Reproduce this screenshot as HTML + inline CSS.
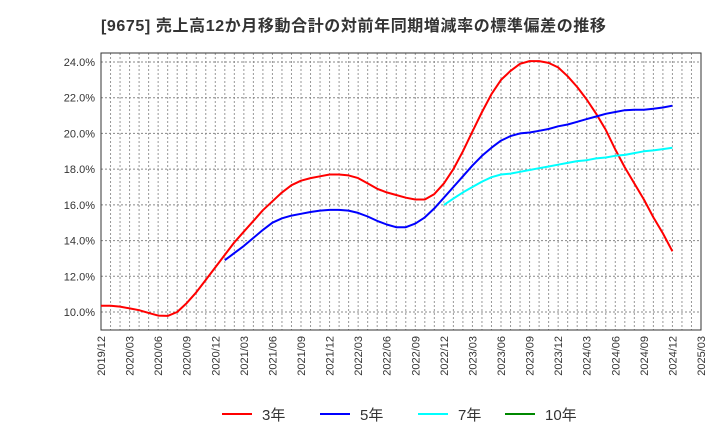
<!DOCTYPE html>
<html><head><meta charset="utf-8"><style>
body{margin:0;background:#fff;font-family:"Liberation Sans","Noto Sans CJK JP",sans-serif}
</style></head><body>
<svg id="c" width="720" height="440" xmlns="http://www.w3.org/2000/svg">
<text x="101" y="31" font-size="16" letter-spacing="0.6" font-weight="bold" fill="#333" font-family="Liberation Sans,Noto Sans CJK JP,sans-serif">[9675]  売上高12か月移動合計の対前年同期増減率の標準偏差の推移</text>
<g id="grid"></g><g id="axes"></g><g id="series"></g><g id="legend"></g>
</svg>
<script>
const yTicks=[10,12,14,16,18,20,22,24];
const xLabels=["2019/12","2020/03","2020/06","2020/09","2020/12","2021/03","2021/06","2021/09","2021/12","2022/03","2022/06","2022/09","2022/12","2023/03","2023/06","2023/09","2023/12","2024/03","2024/06","2024/09","2024/12","2025/03"];
const red=[10.35,10.35,10.3,10.2,10.1,9.95,9.8,9.78,10.0,10.5,11.1,11.8,12.5,13.2,13.9,14.5,15.1,15.7,16.2,16.7,17.1,17.35,17.5,17.6,17.7,17.7,17.65,17.5,17.2,16.9,16.7,16.55,16.4,16.3,16.3,16.6,17.2,18.0,19.0,20.1,21.2,22.2,23.0,23.5,23.9,24.05,24.05,23.95,23.7,23.2,22.6,21.9,21.1,20.2,19.1,18.1,17.2,16.3,15.3,14.4,13.4];
const blue=[12.9,13.3,13.7,14.15,14.6,15.0,15.25,15.4,15.5,15.6,15.68,15.72,15.72,15.68,15.55,15.35,15.1,14.9,14.75,14.75,14.95,15.3,15.8,16.4,17.0,17.6,18.2,18.75,19.2,19.6,19.85,20.0,20.05,20.15,20.25,20.4,20.5,20.65,20.8,20.95,21.1,21.2,21.3,21.33,21.33,21.38,21.45,21.55];
const blueStart=13;
const cyan=[16.0,16.35,16.7,17.0,17.3,17.55,17.7,17.75,17.85,17.95,18.05,18.15,18.25,18.35,18.45,18.5,18.6,18.65,18.75,18.8,18.9,19.0,19.05,19.12,19.2];
const cyanStart=36;
const L=101,R=701,T=53,B=330,months=63;
const X=m=>L+(R-L)*m/months;
const Y=v=>312-(v-10)*(250/14);
const NS="http://www.w3.org/2000/svg";
function mk(t,a,p){const e=document.createElementNS(NS,t);for(const k in a)e.setAttribute(k,a[k]);p.appendChild(e);return e;}
const g=document.getElementById('grid'),ax=document.getElementById('axes'),sg=document.getElementById('series'),lg=document.getElementById('legend');
for(let m=1;m<months;m++){const l=mk('line',{x1:X(m),x2:X(m),y1:T,y2:B,stroke:'#999','stroke-dasharray':'2,2','stroke-width':1},g);

}
yTicks.forEach(v=>{const l=mk('line',{x1:L,x2:R,y1:Y(v),y2:Y(v),stroke:'#888','stroke-dasharray':'2,2','stroke-width':1},g);


const t=mk('text',{x:L-6,y:Y(v)+4,'text-anchor':'end','font-size':11,fill:'#333'},ax);t.textContent=v.toFixed(1)+'%';

});
const fr=mk('rect',{x:L,y:T,width:R-L,height:B-T,fill:'none',stroke:'#333','stroke-width':1},ax);


xLabels.forEach((s,i)=>{const x=X(i*3);const t=mk('text',{x:x+4,y:B+6,'text-anchor':'end','font-size':11,fill:'#333',transform:`rotate(-90 ${x+4} ${B+6})`},ax);t.textContent=s;

});
function line(arr,start,col,name){const pts=arr.map((v,i)=>X(start+i).toFixed(1)+','+Y(v).toFixed(1)).join(' ');
const p=mk('polyline',{points:pts,fill:'none',stroke:col,'stroke-width':2,'stroke-linejoin':'round'},sg);

}
line(red,0,'#f00','series-3y');line(blue,blueStart,'#00f','series-5y');line(cyan,cyanStart,'#0ff','series-7y');
[['3年','#f00',222],['5年','#00f',320],['7年','#0ff',418],['10年','#080',505]].forEach(([n,c,x])=>{
const l=mk('line',{x1:x,x2:x+30,y1:414,y2:414,stroke:c,'stroke-width':2},lg);


const t=mk('text',{x:x+40,y:420,'font-size':15,fill:'#333'},lg);t.textContent=n;

});
</script>
</body></html>
